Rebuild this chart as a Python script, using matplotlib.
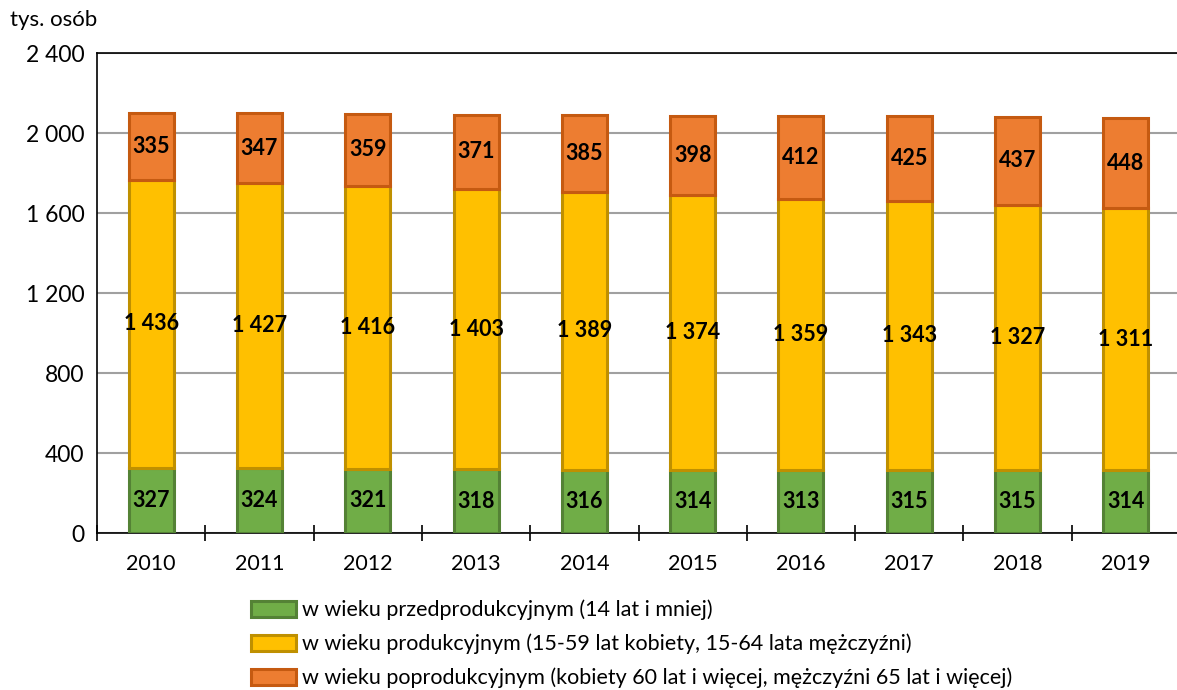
import numpy as np
import matplotlib.pyplot as plt

plt.rcParams['font.family'] = ['Lato', 'DejaVu Sans']

# ludność według ekonomicznych grup wieku, tys. osób
years = ['2010', '2011', '2012', '2013', '2014', '2015', '2016', '2017', '2018', '2019']
przed = [327, 324, 321, 318, 316, 314, 313, 315, 315, 314]
prod = [1436, 1427, 1416, 1403, 1389, 1374, 1359, 1343, 1327, 1311]
popr = [335, 347, 359, 371, 385, 398, 412, 425, 437, 448]

labels = ['w wieku przedprodukcyjnym (14 lat i mniej)',
          'w wieku produkcyjnym (15-59 lat kobiety, 15-64 lata mężczyźni)',
          'w wieku poprodukcyjnym (kobiety 60 lat i więcej, mężczyźni 65 lat i więcej)']
fills = ['#70AD47', '#FFC000', '#ED7D31']
edges = ['#548235', '#BF9000', '#C55A11']


def fmt(v):
    return '{:,}'.format(v).replace(',', ' ')


fig = plt.figure(figsize=(11.77, 6.9), dpi=100)
ax = fig.add_axes([97/1177, 157/690, 1083/1177, 480/690])

x = np.arange(len(years))
bottom = np.zeros(len(years))
handles = []
for vals, fc, ec, lab in zip([przed, prod, popr], fills, edges, labels):
    bars = ax.bar(x, vals, 0.415, bottom=bottom, color=fc, edgecolor=ec,
                  linewidth=2.2, label=lab, zorder=3)
    handles.append(bars)
    for xi, b, v in zip(x, bottom, vals):
        ax.text(xi, b + v / 2, fmt(v), ha='center', va='center',
                fontsize=15.5, fontweight='bold', zorder=4)
    bottom = bottom + np.array(vals)

ax.set_ylim(0, 2400)
ax.set_xlim(-0.5, 9.5)
ax.set_yticks(np.arange(0, 2401, 400))
ax.set_yticklabels([fmt(v) for v in range(0, 2401, 400)], fontsize=16.5)
ax.tick_params(axis='y', length=0, pad=9)
ax.yaxis.grid(True, color='#A0A0A0', linewidth=1.5, zorder=0)

ax.set_xticks(x)
ax.set_xticklabels(years, fontsize=15.5)
ax.tick_params(axis='x', which='major', length=0, pad=15)
ax.set_xticks(np.arange(-0.5, 9.6, 1), minor=True)
ax.tick_params(axis='x', which='minor', direction='inout', length=11, width=1.2)

for s in ['left', 'bottom', 'top']:
    ax.spines[s].set_color('black')
    ax.spines[s].set_linewidth(1.2)
ax.spines['right'].set_visible(False)

fig.text(10/1177, 1 - 20/690, 'tys. osób', fontsize=16, va='center', ha='left')

fig.legend(handles=handles, labels=labels, loc='upper left',
           bbox_to_anchor=(240/1177, 1 - 589/690), frameon=False,
           fontsize=15.5, handlelength=2.1, handleheight=0.8,
           handletextpad=0.3, labelspacing=0.62, borderpad=0)

fig.savefig('out.png', dpi=100)
